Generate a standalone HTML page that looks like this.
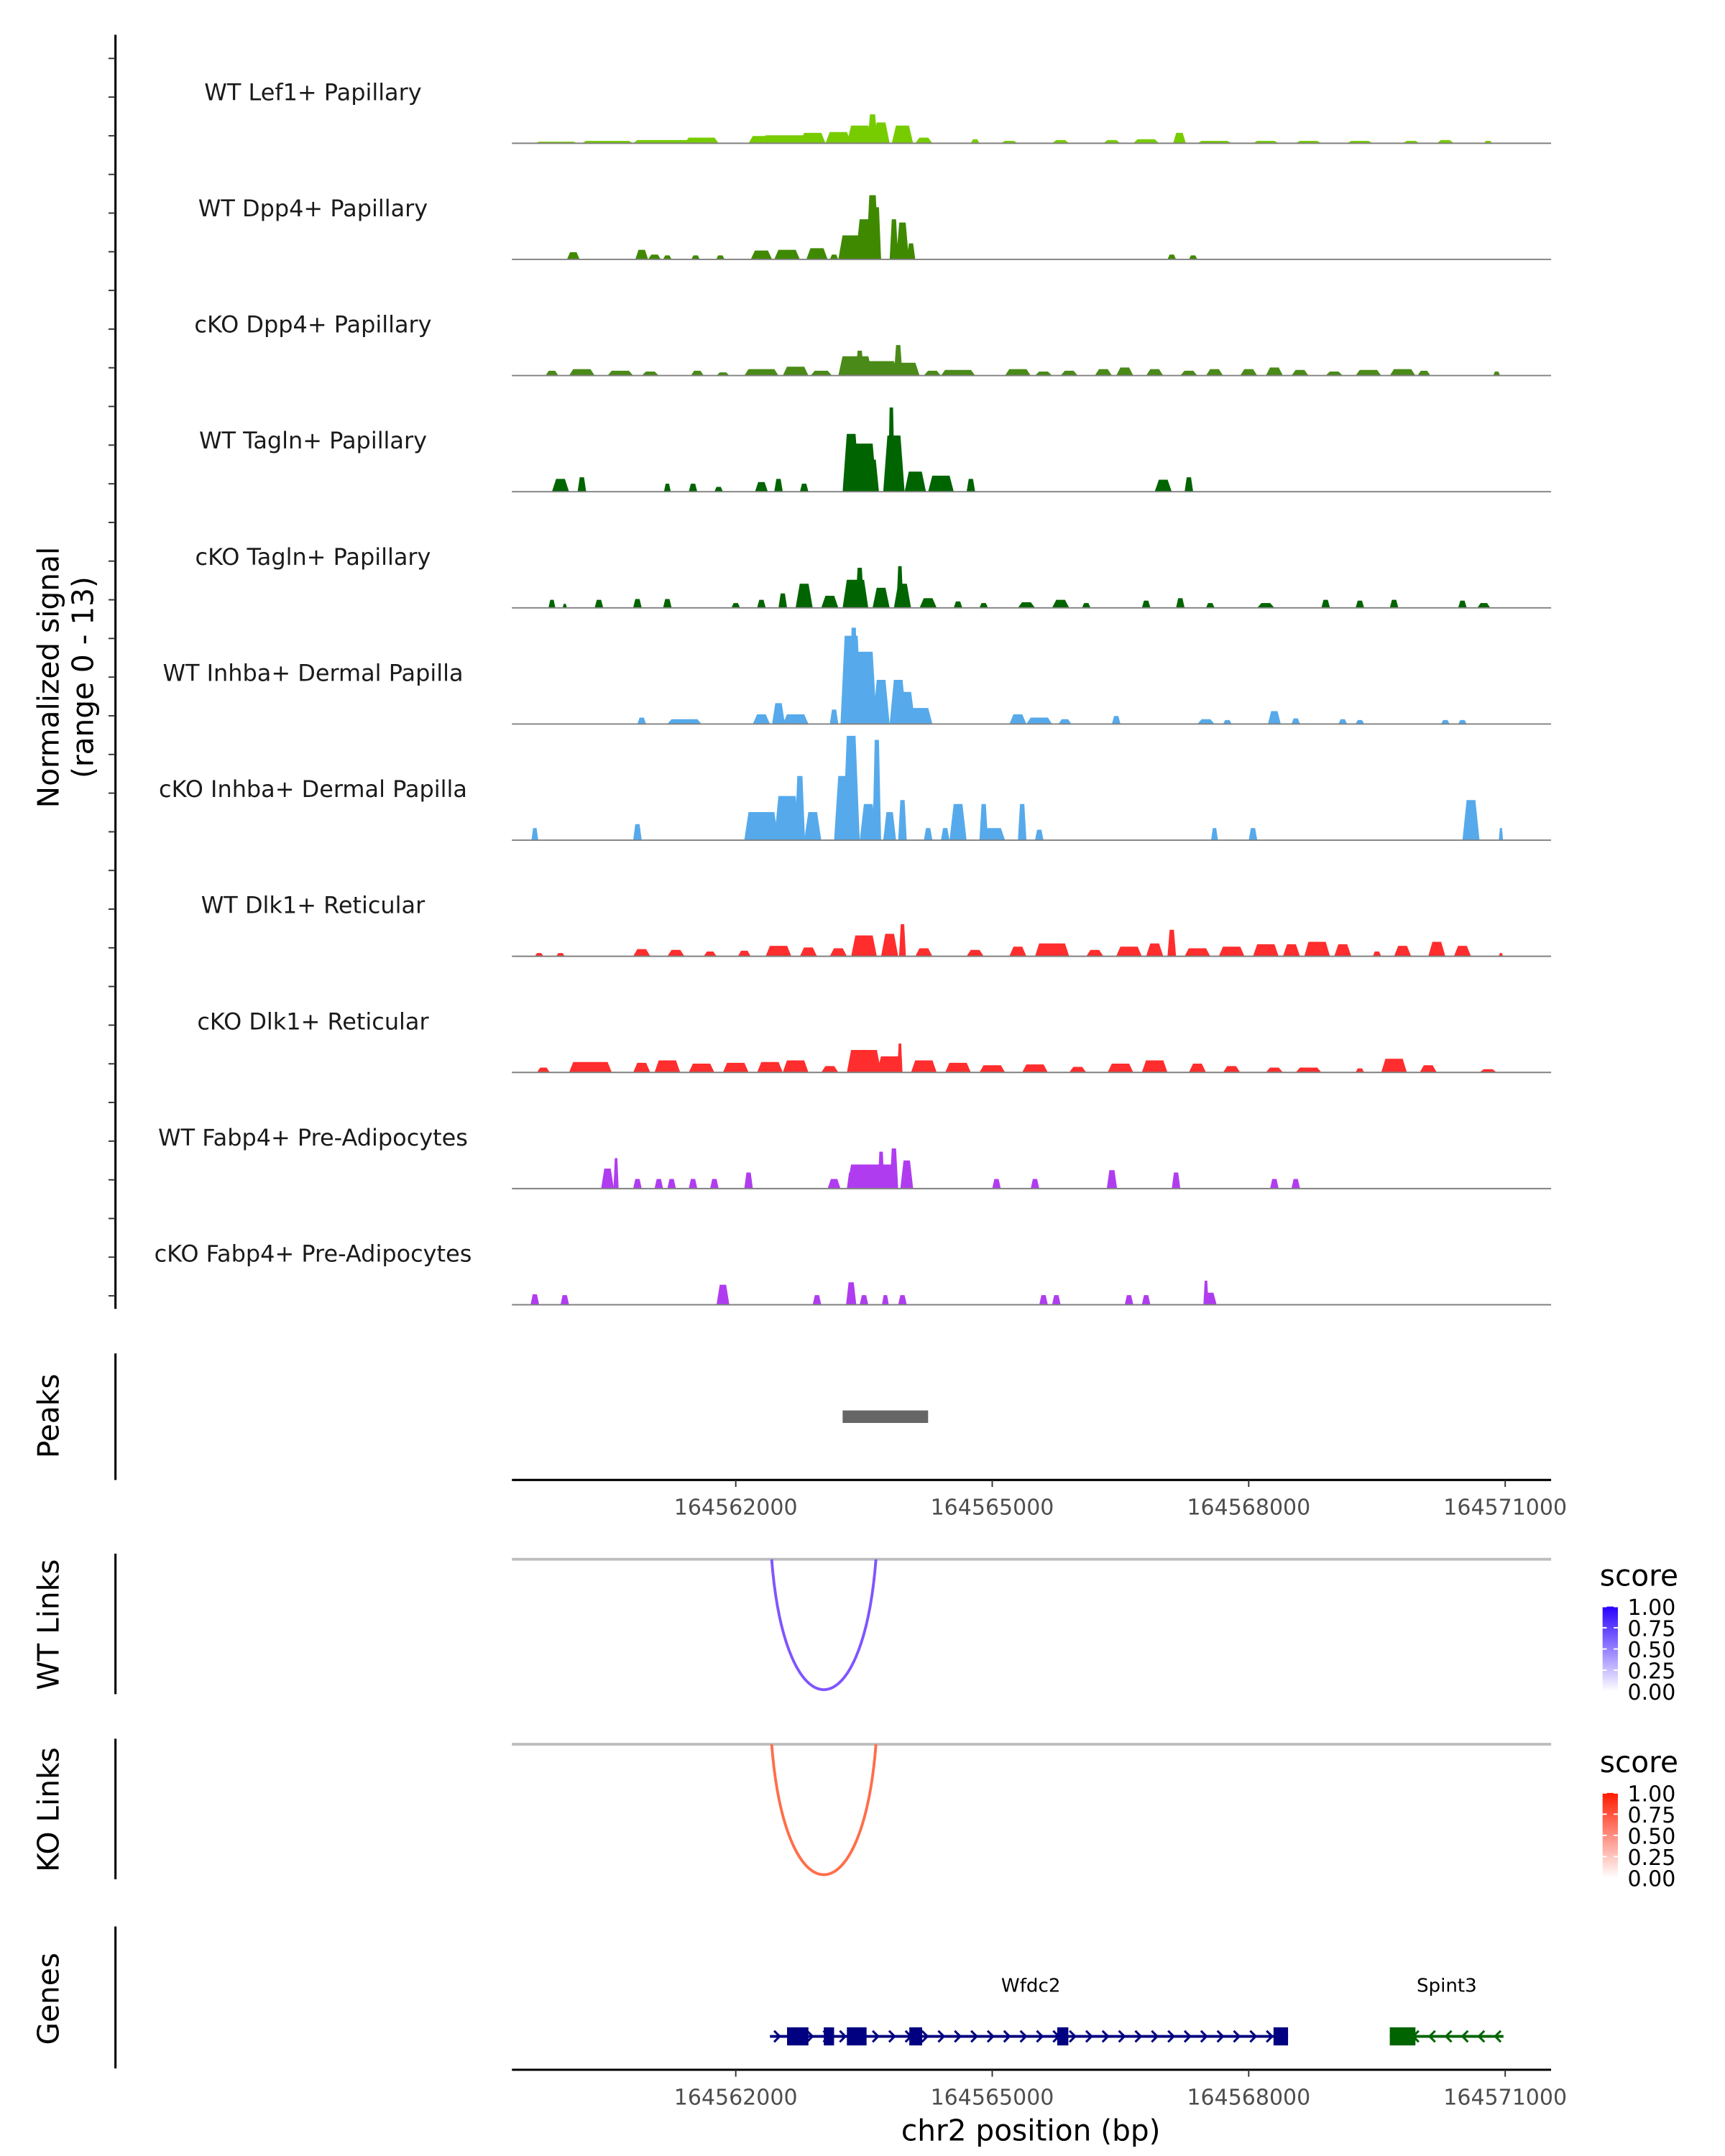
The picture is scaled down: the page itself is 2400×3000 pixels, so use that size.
<!DOCTYPE html>
<html><head><meta charset="utf-8"><style>
html,body{margin:0;padding:0;background:#fff;}
svg{display:block;font-family:"DejaVu Sans","Liberation Sans",sans-serif;}
</style></head><body>
<svg id="fig" width="2400" height="3000" viewBox="0 0 1240 1550" xmlns="http://www.w3.org/2000/svg">
<defs>
<linearGradient id="gradB" x1="0" y1="1" x2="0" y2="0"><stop offset="0" stop-color="#ffffff"/><stop offset="1" stop-color="#2a00ff"/></linearGradient>
<linearGradient id="gradR" x1="0" y1="1" x2="0" y2="0"><stop offset="0" stop-color="#ffffff"/><stop offset="1" stop-color="#ff1a00"/></linearGradient>
</defs>
</svg>
<script>
// ---- data (positions in kb offset from 164559000) ----
const trackLabels = ["WT Lef1+ Papillary","WT Dpp4+ Papillary","cKO Dpp4+ Papillary","WT Tagln+ Papillary","cKO Tagln+ Papillary","WT Inhba+ Dermal Papilla","cKO Inhba+ Dermal Papilla","WT Dlk1+ Reticular","cKO Dlk1+ Reticular","WT Fabp4+ Pre-Adipocytes","cKO Fabp4+ Pre-Adipocytes"];
const trackColors = ["#77cc00","#3f8900","#4a8a18","#006400","#006400","#56aaeb","#56aaeb","#ff2d2d","#ff2d2d","#b03cf0","#b03cf0"];
const lef1WT = [[0.9,0.5,0.2],[1.5,0.6,0.3],[2.2,0.8,0.4],[2.6,0.4,0.7],[3.3,0.3,0.9],[3.6,0.6,1.0],[3.9,0.3,1.3],[4.2,0.3,1.4],[4.45,0.3,2.2],[4.6,0.12,3.6],[4.7,0.2,2.6],[4.95,0.25,2.2],[5.2,0.2,0.7],[5.8,0.1,0.5],[6.2,0.2,0.3],[6.8,0.2,0.4],[7.4,0.2,0.4],[7.8,0.3,0.5],[8.19,0.15,1.3],[8.6,0.4,0.3],[9.2,0.3,0.3],[9.7,0.3,0.3],[10.3,0.3,0.3],[10.9,0.2,0.3],[11.3,0.2,0.4],[11.8,0.1,0.3]];
const dpp4WT = [[1.1,0.15,0.9],[1.9,0.15,1.2],[2.05,0.15,0.6],[2.2,0.1,0.5],[2.53,0.1,0.5],[2.82,0.1,0.5],[3.3,0.25,1.1],[3.6,0.3,1.2],[3.95,0.25,1.4],[4.15,0.1,0.6],[4.35,0.3,3.0],[4.55,0.3,5.0],[4.6,0.15,8.0],[4.65,0.1,6.5],[4.85,0.1,5.0],[4.95,0.15,4.6],[5.05,0.1,2.0],[8.1,0.1,0.6],[8.35,0.1,0.5]];
const dpp4KO = [[0.85,0.15,0.6],[1.2,0.3,0.8],[1.65,0.3,0.6],[2.0,0.2,0.5],[2.55,0.15,0.6],[2.85,0.15,0.4],[3.3,0.4,0.8],[3.7,0.3,1.1],[4.0,0.25,0.6],[4.4,0.4,2.4],[4.45,0.1,3.1],[4.7,0.4,1.8],[4.9,0.1,3.8],[5.0,0.3,1.6],[5.3,0.2,0.6],[5.6,0.4,0.7],[6.3,0.3,0.8],[6.6,0.2,0.5],[6.9,0.2,0.6],[7.3,0.2,0.8],[7.55,0.2,1.0],[7.9,0.2,0.8],[8.3,0.2,0.6],[8.6,0.2,0.8],[9.0,0.2,0.8],[9.3,0.2,1.0],[9.6,0.2,0.7],[10.0,0.2,0.5],[10.4,0.3,0.7],[10.8,0.3,0.8],[11.05,0.15,0.6],[11.9,0.08,0.5]];
const taglnWT = [[0.95,0.2,1.6],[1.2,0.1,1.8],[2.2,0.08,1.0],[2.5,0.1,1.0],[2.8,0.1,0.6],[3.3,0.15,1.2],[3.5,0.1,1.6],[3.8,0.1,1.0],[4.35,0.2,7.2],[4.5,0.3,6.0],[4.6,0.15,4.0],[4.85,0.25,7.0],[4.82,0.08,10.5],[5.1,0.25,2.5],[5.4,0.3,2.0],[5.75,0.1,1.6],[8.0,0.2,1.5],[8.3,0.1,1.8]];
const taglnKO = [[0.85,0.08,1.0],[1.0,0.05,0.5],[1.4,0.1,1.0],[1.85,0.1,1.1],[2.2,0.1,1.1],[3.0,0.1,0.6],[3.3,0.1,1.0],[3.55,0.1,1.8],[3.8,0.2,3.0],[4.1,0.2,1.5],[4.4,0.3,3.5],[4.45,0.1,5.0],[4.7,0.2,2.5],[4.95,0.2,3.0],[4.92,0.08,5.2],[5.25,0.2,1.2],[5.6,0.1,0.8],[5.9,0.1,0.6],[6.4,0.2,0.7],[6.8,0.2,1.0],[7.1,0.1,0.6],[7.8,0.1,0.9],[8.2,0.1,1.2],[8.55,0.1,0.6],[9.2,0.2,0.6],[9.9,0.1,1.0],[10.3,0.1,0.9],[10.7,0.1,1.0],[11.5,0.1,0.9],[11.75,0.15,0.6]];
const inhbaWT = [[1.9,0.1,0.8],[2.4,0.4,0.6],[3.3,0.2,1.2],[3.5,0.15,2.6],[3.7,0.3,1.2],[4.15,0.1,1.8],[4.35,0.25,11.0],[4.38,0.1,12.0],[4.5,0.3,9.0],[4.7,0.2,5.5],[4.9,0.2,5.5],[5.0,0.2,4.0],[5.15,0.3,2.0],[6.3,0.2,1.2],[6.55,0.3,0.8],[6.85,0.15,0.6],[7.45,0.1,1.0],[8.5,0.2,0.6],[8.75,0.1,0.5],[9.3,0.15,1.6],[9.55,0.1,0.7],[10.1,0.1,0.6],[10.3,0.1,0.5],[11.3,0.1,0.5],[11.5,0.1,0.5]];
const inhbaKO = [[0.65,0.08,1.5],[1.85,0.1,2.0],[3.3,0.4,3.5],[3.6,0.3,5.5],[3.75,0.12,8.0],[3.9,0.2,3.5],[4.3,0.3,8.0],[4.35,0.2,13.0],[4.55,0.2,4.5],[4.65,0.1,12.5],[4.8,0.15,3.5],[4.95,0.1,5.0],[5.25,0.1,1.5],[5.45,0.1,1.5],[5.6,0.2,4.5],[5.9,0.1,4.5],[6.0,0.3,1.5],[6.35,0.1,4.5],[6.55,0.1,1.3],[8.6,0.08,1.5],[9.05,0.1,1.5],[11.6,0.2,5.0],[11.95,0.05,1.5]];
const dlk1WT = [[0.7,0.1,0.4],[0.95,0.1,0.4],[1.9,0.2,0.9],[2.3,0.2,0.8],[2.7,0.15,0.6],[3.1,0.15,0.7],[3.5,0.3,1.3],[3.85,0.2,1.1],[4.2,0.2,1.0],[4.5,0.3,2.6],[4.8,0.2,2.8],[4.95,0.08,4.0],[5.2,0.2,1.0],[5.8,0.2,0.8],[6.3,0.2,1.2],[6.7,0.4,1.6],[7.2,0.2,0.8],[7.6,0.3,1.2],[7.9,0.2,1.6],[8.1,0.1,3.3],[8.4,0.3,1.0],[8.8,0.3,1.2],[9.2,0.3,1.5],[9.5,0.2,1.5],[9.8,0.3,1.8],[10.1,0.2,1.5],[10.5,0.1,0.6],[10.8,0.2,1.3],[11.2,0.2,1.8],[11.5,0.2,1.3],[11.95,0.05,0.4]];
const dlk1KO = [[0.75,0.15,0.6],[1.3,0.5,1.3],[1.9,0.2,1.2],[2.2,0.3,1.5],[2.6,0.3,1.1],[3.0,0.3,1.2],[3.4,0.3,1.3],[3.7,0.3,1.5],[4.1,0.2,0.8],[4.5,0.4,2.8],[4.8,0.3,2.0],[4.92,0.06,3.6],[5.2,0.3,1.5],[5.6,0.3,1.2],[6.0,0.3,0.9],[6.5,0.3,1.0],[7.0,0.2,0.7],[7.5,0.3,1.1],[7.9,0.3,1.5],[8.4,0.2,1.1],[8.8,0.2,0.8],[9.3,0.2,0.6],[9.7,0.3,0.6],[10.3,0.1,0.5],[10.7,0.3,1.7],[11.1,0.2,0.9],[11.8,0.2,0.4]];
const fabp4WT = [[1.5,0.15,2.5],[1.6,0.06,3.8],[1.85,0.1,1.2],[2.1,0.1,1.2],[2.25,0.1,1.2],[2.5,0.1,1.2],[2.75,0.1,1.2],[3.15,0.1,2.0],[4.15,0.15,1.2],[4.35,0.1,2.0],[4.6,0.6,3.0],[4.7,0.08,4.6],[4.85,0.1,5.0],[5.0,0.15,3.5],[6.05,0.1,1.2],[6.5,0.1,1.2],[7.4,0.12,2.3],[8.15,0.1,2.0],[9.3,0.1,1.2],[9.55,0.1,1.2]];
const fabp4KO = [[0.65,0.1,1.3],[1.0,0.1,1.2],[2.85,0.15,2.5],[3.95,0.1,1.2],[4.35,0.12,2.8],[4.5,0.1,1.2],[4.75,0.08,1.2],[4.95,0.1,1.2],[6.6,0.1,1.2],[6.75,0.1,1.2],[7.6,0.1,1.2],[7.8,0.1,1.2],[8.55,0.15,1.5],[8.5,0.06,3.0]];
const trackPeaks = [lef1WT,dpp4WT,dpp4KO,taglnWT,taglnKO,inhbaWT,inhbaKO,dlk1WT,dlk1KO,fabp4WT,fabp4KO];
const peakRegions = [[4.25,5.25]];
const xTicks = [3,6,9,12];
const xTickLabels = ["164562000","164565000","164568000","164571000"];
const wtLinks = [[3.42,4.64,1.0]];
const koLinks = [[3.42,4.64,1.0]];
const legendTicks = ["1.00","0.75","0.50","0.25","0.00"];
const genes = [{name:"Wfdc2",start:3.4,end:9.46,strand:1,exons:[[3.6,3.85],[4.03,4.15],[4.3,4.53],[5.03,5.18],[6.76,6.89],[9.29,9.46]]},
               {name:"Spint3",start:10.65,end:11.98,strand:-1,exons:[[10.65,10.95]]}];

// ---- scales ----
const NS="http://www.w3.org/2000/svg";
const svg=document.getElementById('fig');
const X0=368,X1=1115,D0=0.382,D1=12.537;
function xs(v){return X0+(v-D0)/(D1-D0)*(X1-X0);}
const trackH=83.5, firstBase=103, yMax=13, yPix=75;
function ys(base,v){return base-v/yMax*yPix;}
function mk(tag,attrs,parent){const e=document.createElementNS(NS,tag);for(const k in attrs)e.setAttribute(k,attrs[k]);(parent||svg).appendChild(e);return e;}
function txt(s,attrs,parent){const e=mk('text',attrs,parent);e.textContent=s;return e;}

let ax=mk('line',{x1:83,y1:25,x2:83,y2:941,stroke:'#000','stroke-width':1.6});


for(let y=42;y<=941;y+=27.8){const t=mk('line',{x1:78,y1:y,x2:83,y2:y,stroke:'#333','stroke-width':1});

}
let yt=txt('Normalized signal',{x:0,y:0,'font-size':21,'text-anchor':'middle',transform:'translate(42,487) rotate(-90)',fill:'#000'});


let yt2=txt('(range 0 - 13)',{x:0,y:0,'font-size':21,'text-anchor':'middle',transform:'translate(67,487) rotate(-90)',fill:'#000'});



trackPeaks.forEach((pk,i)=>{
  const base=firstBase+i*trackH;
  const g=mk('g',{});
  
  
  const lb=txt(trackLabels[i],{x:225,y:base-31,'font-size':16.5,'text-anchor':'middle',fill:'#1a1a1a'},g);
  
  
  pk.forEach(p=>{
    const xa=xs(p[0]-p[1]/2), xb=xs(p[0]+p[1]/2), yt=ys(base,p[2]);
    const w=xb-xa, s=Math.min(w*0.25,3);
    const poly=mk('polygon',{points:`${xa},${base} ${xa+s},${yt} ${xb-s},${yt} ${xb},${base}`,fill:trackColors[i]},g);
    
    
  });
  const bl=mk('line',{x1:X0,y1:base,x2:X1,y2:base,stroke:'#808080','stroke-width':1},g);
  
  
});

let pa=mk('line',{x1:83,y1:973,x2:83,y2:1064,stroke:'#000','stroke-width':1.6});


let pl=txt('Peaks',{x:0,y:0,'font-size':21,'text-anchor':'middle',transform:'translate(42,1018) rotate(-90)'});


peakRegions.forEach(r=>{const e=mk('rect',{x:xs(r[0]),y:1014,width:xs(r[1])-xs(r[0]),height:9,fill:'#666'});

});

function xAxis(y,name){
  const l=mk('line',{x1:X0,y1:y,x2:X1,y2:y,stroke:'#000','stroke-width':1.6});
  
  
  xTicks.forEach((t,i)=>{
    const tk=mk('line',{x1:xs(t),y1:y,x2:xs(t),y2:y+5,stroke:'#333','stroke-width':1});
    
    
    const tl=txt(xTickLabels[i],{x:xs(t),y:y+25,'font-size':15.5,'text-anchor':'middle',fill:'#4d4d4d'});
    
    
  });
}
xAxis(1064,'peaks-x-axis');

function linksPanel(links,top,color,grad,title,ltop){
  const a=mk('line',{x1:83,y1:top-4,x2:83,y2:top+97,stroke:'#000','stroke-width':1.6});
  
  
  const t=txt(title,{x:0,y:0,'font-size':21,'text-anchor':'middle',transform:`translate(42,${top+47}) rotate(-90)`});
  
  
  const h=mk('line',{x1:X0,y1:top,x2:X1,y2:top,stroke:'#bdbdbd','stroke-width':2});
  
  
  links.forEach(k=>{
    const xa=xs(k[0]),xb=xs(k[1]),d=125*k[2];
    const p=mk('path',{d:`M${xa},${top} C${xa+(xb-xa)*0.13},${top+d} ${xb-(xb-xa)*0.13},${top+d} ${xb},${top}`,fill:'none',stroke:color,'stroke-width':2});
    
    
  });
  const lt=txt('score',{x:1150,y:ltop,'font-size':21,fill:'#000'});
  
  
  const gb=mk('rect',{x:1152,y:ltop+15,width:11,height:61,fill:`url(#${grad})`});
  
  
  legendTicks.forEach((s,i)=>{
    const yy=ltop+15+i*15.25;
    const tl=txt(s,{x:1170,y:yy+6,'font-size':15.5,fill:'#000'});
    
    
    mk('line',{x1:1152,y1:yy,x2:1155,y2:yy,stroke:'#fff','stroke-width':1});
    mk('line',{x1:1160,y1:yy,x2:1163,y2:yy,stroke:'#fff','stroke-width':1});
  });
}
linksPanel(wtLinks,1121,'#7f55ff','gradB','WT Links',1140);
linksPanel(koLinks,1254,'#ff6e4a','gradR','KO Links',1274);

let ga=mk('line',{x1:83,y1:1385,x2:83,y2:1487,stroke:'#000','stroke-width':1.6});


let gt=txt('Genes',{x:0,y:0,'font-size':21,'text-anchor':'middle',transform:'translate(42,1437) rotate(-90)'});


const geneColors=['#000080','#006400'];
genes.forEach((g,gi)=>{
  const c=geneColors[gi], y=1464;
  const grp=mk('g',{});
  
  
  mk('line',{x1:xs(g.start),y1:y,x2:xs(g.end),y2:y,stroke:c,'stroke-width':2},grp);
  for(let x=xs(g.start)+6;x<xs(g.end)-4;x+=11.8){
    const d=g.strand>0?`M${x-3},${y-4} L${x+1},${y} L${x-3},${y+4}`:`M${x+3},${y-4} L${x-1},${y} L${x+3},${y+4}`;
    mk('path',{d:d,fill:'none',stroke:c,'stroke-width':1.6},grp);
  }
  g.exons.forEach(e=>{const r=mk('rect',{x:xs(e[0]),y:y-6.5,width:xs(e[1])-xs(e[0]),height:13,fill:c},grp);
  
  });
  const lab=txt(g.name,{x:gi===0?741:1040,y:1432,'font-size':13.5,'text-anchor':'middle',fill:'#000'},grp);
  
  
});
xAxis(1488,'genes-x-axis');
let xt=txt('chr2 position (bp)',{x:741,y:1539,'font-size':21,'text-anchor':'middle',fill:'#000'});


</script>
</body></html>
